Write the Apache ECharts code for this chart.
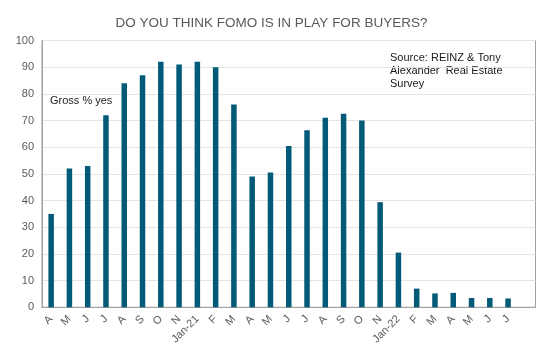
<!DOCTYPE html>
<html><head><meta charset="utf-8">
<script src="https://cdn.jsdelivr.net/npm/echarts@6/dist/echarts.min.js"></script>
<style>html,body{margin:0;padding:0;background:#fff}#c{width:543px;height:359px}</style>
</head><body><div id="c"></div>
<script>
var categories = ['A','M','J','J','A','S','O','N','Jan-21','F','M','A','M','J','J','A','S','O','N','Jan-22','F','M','A','M','J','J',''];
var values = [35,52,53,72,84,87,92,91,92,90,76,49,50.5,60.5,66.4,71,72.5,70,39.4,20.5,7,5.2,5.4,3.5,3.5,3.3,null];
var yTicks = {min:0, max:100, interval:10};
var titleText = 'DO YOU THINK FOMO IS IN PLAY FOR BUYERS?';
var noteText = 'Gross % yes';
var sourceText = 'Source: REINZ & Tony\nAlexander  Real Estate\nSurvey';

var chart = echarts.init(document.getElementById('c'));
chart.setOption({
  animation:false,
  backgroundColor:'#fff',
  title:{text:titleText, left:'center', top:11, textStyle:{fontFamily:'Liberation Sans, Arial', fontSize:13.5, fontWeight:'normal', color:'#595959'}},
  grid:{left:42, right:7.5, top:40.5, bottom:51.7, show:true, borderColor:'#a0a0a0', borderWidth:1, backgroundColor:'transparent'},
  xAxis:{type:'category', data:categories,
    axisLine:{lineStyle:{color:'#a0a0a0'}}, axisTick:{show:false},
    axisLabel:{interval:0, rotate:45, color:'#595959', fontFamily:'Liberation Sans, Arial', fontSize:11, margin:10}},
  yAxis:{type:'value', min:yTicks.min, max:yTicks.max, interval:yTicks.interval,
    axisLine:{show:true, lineStyle:{color:'#a0a0a0'}}, axisTick:{show:false},
    splitLine:{lineStyle:{color:'#e4e4e4'}},
    axisLabel:{color:'#595959', fontFamily:'Liberation Sans, Arial', fontSize:11, margin:8}},
  series:[{type:'bar', data:values, barWidth:5.5, itemStyle:{color:'#005a78'}}],
  graphic:[
    {type:'text', left:50, top:95, style:{text:noteText, fill:'#1a1a1a', font:'11px Liberation Sans, Arial'}},
    {type:'text', left:390, top:51, style:{text:sourceText, fill:'#1a1a1a', font:'11px Liberation Sans, Arial', lineHeight:13}}
  ]
});
</script></body></html>
